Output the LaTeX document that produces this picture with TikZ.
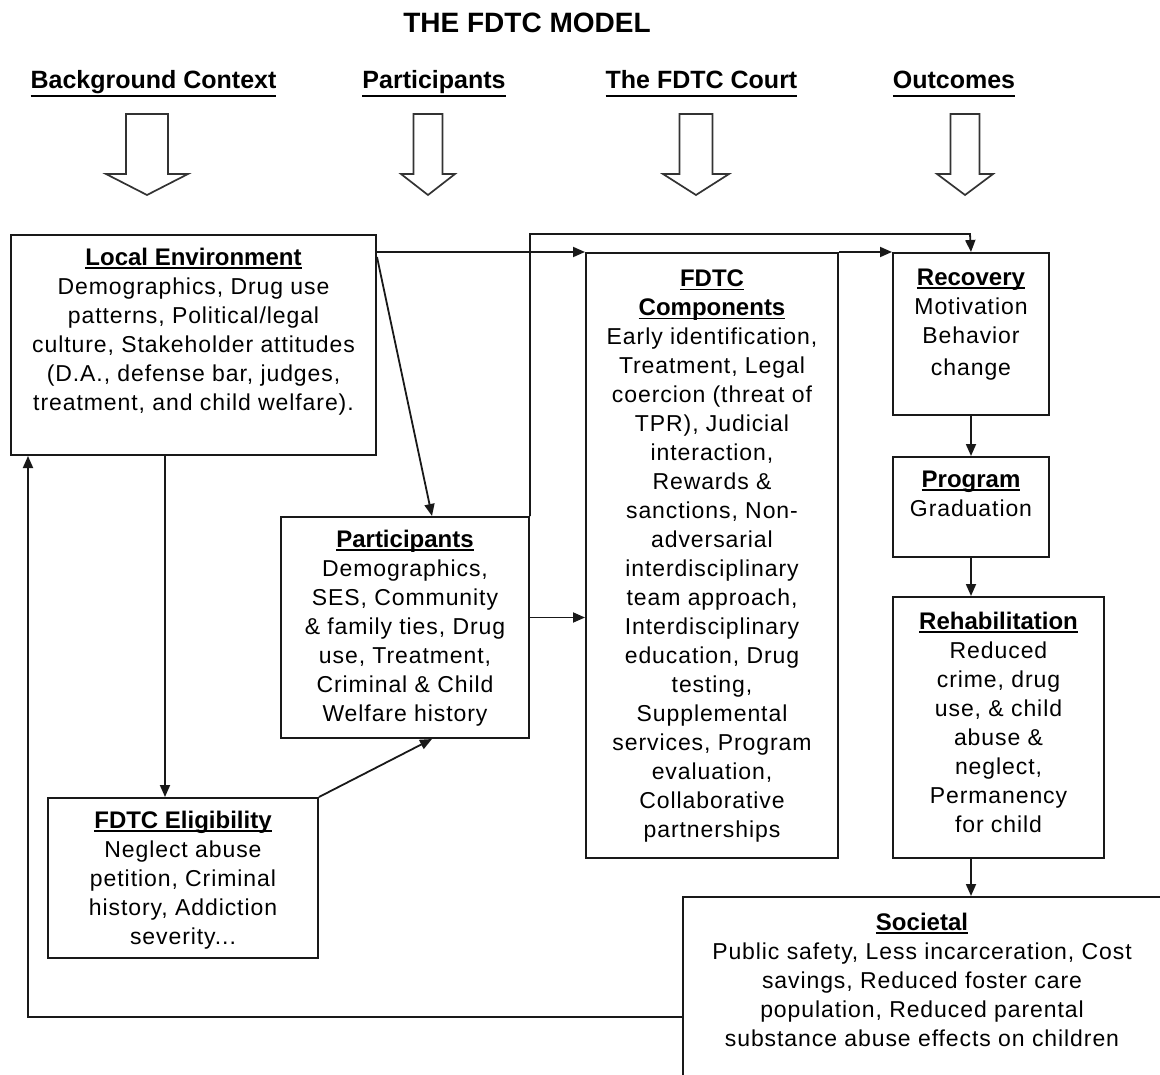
\documentclass[tikz,border=0pt]{standalone}
\usepackage{fontspec}
\setmainfont{Liberation Sans}
\newfontfamily\bodyfont[LetterSpace=4]{Liberation Sans}
\usetikzlibrary{arrows.meta,calc}

% bold heading with a rule just under the baseline
\newcommand\headul[1]{\setbox0=\hbox{\rmfamily\bfseries\fontsize{24}{29}\selectfont #1}\rlap{\rule[-3.5pt]{\wd0}{1.8pt}}\box0}
% column header: larger, rule further below
\newcommand\colhead[1]{\setbox0=\hbox{#1}\rlap{\rule[-8.5pt]{\wd0}{2pt}}\box0}

\tikzset{
  box/.style={draw=black!90, line width=2pt, inner sep=0pt, anchor=north west},
  txt/.style={align=center, inner sep=0pt, anchor=north, text=black,
              font={\bodyfont\fontsize{23}{29}\selectfont}},
  conn/.style={draw=black!90, line width=1.8pt},
  arr/.style={conn, -{Triangle[length=12pt,width=10pt]}},
  colhd/.style={anchor=base, inner sep=0pt, font={\bfseries\fontsize{25}{30}\selectfont}},
  pics/blockarr/.style args={#1/#2}{code={
    \draw[draw=black!80, line width=1.7pt, line join=miter, fill=white]
      (-#1,0) -- (-#1,60) -- (-#2,60) -- (0,81) -- (#2,60) -- (#1,60) -- (#1,0) -- cycle;}}
}

\begin{document}
\begin{tikzpicture}[x=1pt, y=-1pt]
\useasboundingbox (0,0) rectangle (1160,1075);
\clip (0,0) rectangle (1160,1075);
\fill[white] (0,0) rectangle (1160,1075);

% title and column headers
\node[anchor=base, inner sep=0pt, font={\bfseries\fontsize{28}{32}\selectfont}] (title) at (527,33) {THE FDTC MODEL};
\node[colhd] (hbg)  at (153.5,89) {\colhead{Background Context}};
\node[colhd] (hpa)  at (434,89)   {\colhead{Participants}};
\node[colhd] (hct)  at (701.5,89) {\colhead{The FDTC Court}};
\node[colhd] (hout) at (954,89)   {\colhead{Outcomes}};

% hollow block arrows under the headers
\pic at (147,114) {blockarr=21/41};
\pic at (428,114) {blockarr=14.5/27};
\pic at (696,114) {blockarr=16.5/33};
\pic at (965,114) {blockarr=14.5/28};

% boxes
\node[box, minimum width=365pt, minimum height=220pt] (le)    at (10,234)  {};
\node[box, minimum width=248pt, minimum height=221pt] (part)  at (280,516) {};
\node[box, minimum width=270pt, minimum height=160pt] (elig)  at (47,797)  {};
\node[box, minimum width=252pt, minimum height=605pt] (fdtc)  at (585,252) {};
\node[box, minimum width=156pt, minimum height=162pt] (rec)   at (892,252) {};
\node[box, minimum width=156pt, minimum height=100pt] (prog)  at (892,456) {};
\node[box, minimum width=211pt, minimum height=261pt] (rehab) at (892,596) {};
\node[box, minimum width=480pt, minimum height=242pt] (soc)   at (682,896) {};

% box texts
\node[txt] (le-t) at ([yshift=-14pt]le.north) {\headul{Local Environment}\\
  Demographics, Drug use\\ patterns, Political/legal\\ culture, Stakeholder attitudes\\
  (D.A., defense bar, judges,\\ treatment, and child welfare).};
\node[txt] (part-t) at ([yshift=-14pt]part.north) {\headul{Participants}\\
  Demographics,\\ SES, Community\\ \& family ties, Drug\\ use, Treatment,\\
  Criminal \& Child\\ Welfare history};
\node[txt] (elig-t) at ([yshift=-14pt]elig.north) {\headul{FDTC Eligibility}\\
  Neglect abuse\\ petition, Criminal\\ history, Addiction\\ severity...};
\node[txt] (fdtc-t) at ([yshift=-18pt]fdtc.north) {\headul{FDTC}\\ \headul{Components}\\
  Early identification,\\ Treatment, Legal\\ coercion (threat of\\ TPR), Judicial\\
  interaction,\\ Rewards \&\\ sanctions, Non-\\ adversarial\\ interdisciplinary\\
  team approach,\\ Interdisciplinary\\ education, Drug\\ testing,\\ Supplemental\\
  services, Program\\ evaluation,\\ Collaborative\\ partnerships};
\node[txt] (rec-t) at ([yshift=-17pt]rec.north) {\headul{Recovery}\\
  Motivation\\ Behavior\\[3pt] change};
\node[txt] (prog-t) at ([yshift=-15pt]prog.north) {\headul{Program}\\ Graduation};
\node[txt] (rehab-t) at ([yshift=-16pt]rehab.north) {\headul{Rehabilitation}\\
  Reduced\\ crime, drug\\ use, \& child\\ abuse \&\\ neglect,\\ Permanency\\ for child};
\node[txt] (soc-t) at ([xshift=-1pt,yshift=-17pt]soc.north) {\headul{Societal}\\
  Public safety, Less incarceration, Cost\\ savings, Reduced foster care\\
  population, Reduced parental\\ substance abuse effects on children};

% turning points of the routed connectors
\coordinate (recin)  at (970,234);
\coordinate (eligin) at (165,797);
\coordinate (fbturn) at (28,1017);

% connectors
\draw[arr] (le.east |- fdtc.north west) -- (fdtc.north west);
\draw[arr] (fdtc.north east) -- (rec.north west);
\draw[arr] ([yshift=-23pt]le.north east) -- ([xshift=27pt]part.north);
\draw[arr] (le.south -| eligin) -- (eligin);
\draw[arr] (elig.north east) -- ([xshift=27pt]part.south);
\draw[arr] ([yshift=10pt]part.east) -- ([yshift=10pt]part.east -| fdtc.west);
\draw[arr] (part.north east) |- (recin) -- (rec.north);
\draw[arr] (rec.south) -- (prog.north);
\draw[arr] (prog.south) -- (prog.south |- rehab.north);
\draw[arr] (rehab.south -| prog.south) -- (soc.north -| prog.south);
\draw[arr] (soc.west |- fbturn) -- (fbturn) -- (fbturn |- le.south);
\end{tikzpicture}
\end{document}
